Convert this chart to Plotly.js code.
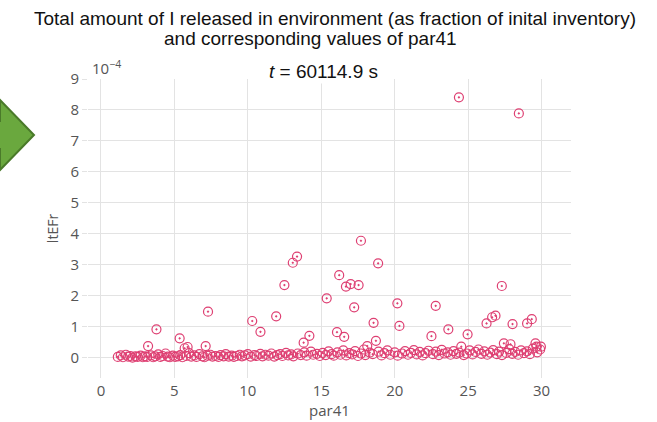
<!DOCTYPE html>
<html><head><meta charset="utf-8">
<script src="https://cdn.plot.ly/plotly-3.0.1.min.js"></script>
<style>html,body{margin:0;padding:0;background:#fff}#chart{width:657px;height:422px}</style>
</head><body><div id="chart"></div>
<script>
// values of ItEFr are in units of 1e-4
const outX = [3.21,3.78,5.36,5.7,5.9,7.29,7.13,10.3,10.86,11.93,12.49,13.06,13.35,13.8,14.19,15.37,16.07,16.22,16.56,16.68,17.0,17.24,17.54,17.7,18.13,18.56,18.72,18.87,20.18,20.32,22.79,22.5,23.65,24.53,24.96,24.37,28.45,27.29,26.25,26.63,26.86,28.02,29.01,29.33,27.43,27.88,29.58,29.65,29.9];
const outY = [0.38,0.92,0.63,0.31,0.35,1.49,0.38,1.19,0.84,1.34,2.35,3.07,3.27,0.49,0.71,1.92,0.83,2.67,0.68,2.3,2.38,1.63,2.35,3.78,0.38,1.13,0.55,3.05,1.76,1.03,1.68,0.7,0.92,0.36,0.76,8.41,7.89,2.32,1.11,1.31,1.36,1.09,1.11,1.25,0.47,0.44,0.47,0.36,0.27];
const baseX = [1.15,1.35,1.5,1.7,1.85,2.0,2.15,2.35,2.5,2.7,2.85,3.0,3.15,3.4,3.55,3.7,3.9,4.05,4.2,4.4,4.55,4.7,4.9,5.05,5.25,5.4,5.55,5.8,6.0,6.15,6.35,6.5,6.7,6.9,7.05,7.25,7.45,7.6,7.8,8.0,8.15,8.35,8.5,8.7,8.9,9.05,9.25,9.45,9.6,9.8,10.0,10.2,10.45,10.6,10.85,11.0,11.2,11.4,11.6,11.8,12.0,12.2,12.35,12.6,12.75,12.95,13.1,13.4,13.6,13.85,14.0,14.3,14.45,14.7,14.9,15.1,15.3,15.5,15.7,15.85,16.1,16.3,16.5,16.7,16.9,17.1,17.3,17.5,17.7,17.9,18.0,18.3,18.5,18.9,19.1,19.3,19.5,19.7,20.0,20.2,20.5,20.7,20.9,21.1,21.3,21.5,21.7,21.9,22.1,22.3,22.6,22.8,23.0,23.2,23.4,23.6,23.8,24.0,24.2,24.4,24.7,24.9,25.1,25.3,25.5,25.7,25.9,26.1,26.3,26.5,26.7,26.95,27.1,27.3,27.6,27.8,28.0,28.2,28.4,28.6,28.8,29.0,29.2,29.4,29.7,29.95];
const baseY = [0.03,0.08,0.02,0.1,0.04,0.06,0.01,0.05,0.03,0.07,0.02,0.05,0.03,0.08,0.02,0.05,0.11,0.03,0.06,0.14,0.04,0.02,0.07,0.03,0.05,0.09,0.02,0.06,0.15,0.04,0.08,0.03,0.12,0.05,0.02,0.07,0.1,0.04,0.06,0.03,0.09,0.05,0.12,0.04,0.07,0.03,0.06,0.1,0.05,0.08,0.12,0.04,0.09,0.06,0.13,0.05,0.1,0.07,0.14,0.04,0.09,0.12,0.06,0.16,0.08,0.11,0.05,0.14,0.09,0.18,0.07,0.2,0.1,0.13,0.06,0.16,0.09,0.21,0.12,0.07,0.18,0.1,0.24,0.08,0.15,0.11,0.22,0.06,0.14,0.27,0.09,0.17,0.12,0.2,0.08,0.15,0.24,0.1,0.18,0.07,0.14,0.22,0.1,0.16,0.25,0.11,0.19,0.08,0.15,0.23,0.12,0.2,0.09,0.26,0.14,0.18,0.1,0.22,0.13,0.17,0.09,0.14,0.24,0.11,0.19,0.27,0.13,0.21,0.1,0.17,0.25,0.12,0.2,0.09,0.16,0.28,0.13,0.19,0.1,0.24,0.15,0.21,0.12,0.3,0.18,0.36];
const xTicks = [0,5,10,15,20,25,30];
const yTicks = [0,1,2,3,4,5,6,7,8,9];

const W = 657, H = 422, ML = 88, MR = 86, MT = 79, MB = 44;
const px = v => (v - ML) / (W - ML - MR);
const py = v => (H - MB - v) / (H - MT - MB);
// green arrow decoration (pixel outline converted to paper coords)
const arrowPts = [[-2,121],[0,121],[0,100],[34,135],[0,170],[0,149],[-2,149]];
const arrowPath = 'M' + arrowPts.map(p => px(p[0]) + ',' + py(p[1])).join(' L') + ' Z';

const data = [{
  type: 'scatter', mode: 'markers',
  x: baseX.concat(outX), y: baseY.concat(outY),
  marker: {symbol: 'circle-open-dot', size: 9, color: '#de3f72', line: {width: 1.2, color: '#de3f72'}},
  showlegend: false, hoverinfo: 'x+y'
}];
const titleFont = {family: 'Liberation Sans, Arial, sans-serif', size: 19, color: '#111'};
const layout = {
  width: W, height: H,
  margin: {l: ML, r: MR, t: MT, b: MB, pad: 0},
  paper_bgcolor: '#fff', plot_bgcolor: '#fff',
  font: {family: 'Open Sans, sans-serif', color: '#555'},
  title: {text: 'Total amount of I released in environment (as fraction of inital inventory)',
          font: titleFont,
          x: 336 / W, xanchor: 'center', y: 1 - 18 / H, yanchor: 'middle', xref: 'paper', yref: 'container'},
  xaxis: {range: [-0.88, 32], tickvals: xTicks, ticks: '', showline: false, zeroline: false,
          gridcolor: '#e3e3e3', tickfont: {size: 15, color: '#555'}, ticklabelstandoff: 2,
          title: {text: 'par41', font: {size: 15, color: '#555'}, standoff: 3}, automargin: false},
  yaxis: {range: [-0.65, 9.0], tickvals: yTicks, ticks: 'outside', ticklen: 5, tickcolor: '#e3e3e3',
          showline: false, zeroline: false, gridcolor: '#e3e3e3', tickfont: {size: 15, color: '#555'},
          title: {text: 'ltEFr', font: {size: 14, color: '#555'}, standoff: 8}, automargin: false},
  annotations: [
    {text: 'and corresponding values of par41', xref: 'paper', yref: 'paper', x: px(310), y: py(38),
     xanchor: 'center', yanchor: 'middle', showarrow: false, font: titleFont},
    {text: '<i>t</i> = 60114.9 s', xref: 'paper', yref: 'paper', x: px(323), y: py(71),
     xanchor: 'center', yanchor: 'middle', showarrow: false, bgcolor: '#fff',
     font: {family: 'Liberation Sans, Arial, sans-serif', size: 19, color: '#111'}},
    {text: '10<sup>−4</sup>', xref: 'paper', yref: 'paper', x: px(90), y: py(67),
     xanchor: 'left', yanchor: 'middle', showarrow: false,
     font: {family: 'Open Sans, sans-serif', size: 15, color: '#555'}}
  ],
  shapes: [
    {type: 'path', xref: 'paper', yref: 'paper', path: arrowPath,
     fillcolor: '#6aa83e', line: {color: '#4a7a2a', width: 2}, layer: 'above'}
  ]
};
Plotly.newPlot('chart', data, layout, {displayModeBar: false, staticPlot: true});
</script></body></html>
